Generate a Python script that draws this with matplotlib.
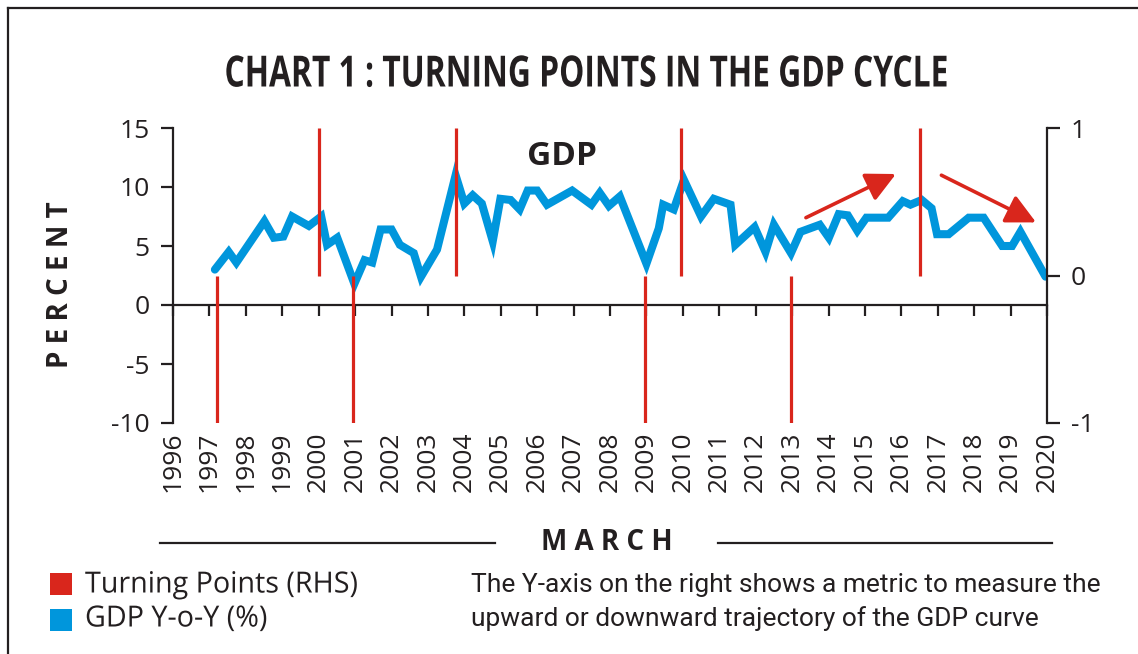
import matplotlib
matplotlib.use('Agg')
import matplotlib.pyplot as plt
from matplotlib.lines import Line2D
from matplotlib.patches import Rectangle
from matplotlib.patheffects import AbstractPathEffect
from matplotlib.transforms import Affine2D

plt.rcParams['axes.unicode_minus'] = False

# GDP Y-o-Y (%) (decimal year, percent)
gdp_years = [1997.15, 1997.53, 1997.74, 1998.51, 1998.77, 1999.03, 1999.27, 1999.73,
             2000.07, 2000.23, 2000.51, 2000.98, 2001.26, 2001.47, 2001.70, 2002.00,
             2002.23, 2002.61, 2002.81, 2003.25, 2003.76, 2004.00, 2004.23, 2004.48,
             2004.78, 2004.99, 2005.27, 2005.52, 2005.74, 2006.00, 2006.27, 2006.96,
             2007.49, 2007.72, 2007.97, 2008.27, 2009.00, 2009.34, 2009.46, 2009.75,
             2010.03, 2010.50, 2010.85, 2011.31, 2011.44, 2011.97, 2012.27, 2012.50,
             2012.97, 2013.23, 2013.76, 2014.01, 2014.28, 2014.53, 2014.79, 2015.04,
             2015.64, 2016.04, 2016.25, 2016.56, 2016.83, 2016.98, 2017.30, 2017.85,
             2018.26, 2018.77, 2019.04, 2019.27, 2019.96]
gdp_vals = [3.0, 4.5, 3.6, 7.1, 5.7, 5.8, 7.5, 6.7,
            7.5, 5.1, 5.7, 1.8, 3.8, 3.6, 6.4, 6.4,
            5.1, 4.4, 2.4, 4.7, 11.0, 8.6, 9.3, 8.6,
            5.4, 9.0, 8.9, 8.1, 9.7, 9.7, 8.5, 9.7,
            8.5, 9.5, 8.4, 9.2, 3.5, 6.5, 8.5, 8.1,
            10.6, 7.5, 9.0, 8.5, 5.1, 6.6, 4.5, 6.8,
            4.4, 6.2, 6.8, 5.7, 7.7, 7.6, 6.3, 7.4,
            7.4, 8.8, 8.5, 8.9, 8.2, 6.0, 6.0, 7.4,
            7.4, 5.0, 5.0, 6.2, 2.4]

# turning points on the right-hand scale
turn_years = [1997.22, 2000.0, 2000.95, 2003.76, 2008.95, 2009.96, 2012.96, 2016.5]
turn_vals = [-1, 1, -1, 1, -1, 1, -1, 1]

years = list(range(1996, 2021))

RED = '#d9261c'
BLUE = '#0096dc'
INK = '#231f20'
W, H = 1138, 654


class Squeeze(AbstractPathEffect):
    """Narrow the glyphs horizontally around x = cx (display pixels)."""
    def __init__(self, sx, cx):
        super().__init__()
        self.sx, self.cx = sx, cx

    def draw_path(self, renderer, gc, tpath, affine, rgbFace=None):
        t = affine + Affine2D().translate(-self.cx, 0).scale(self.sx, 1).translate(self.cx, 0)
        renderer.draw_path(gc, tpath, t, rgbFace)


fig = plt.figure(figsize=(W / 100, H / 100), dpi=100)

def fx(px):
    return px / W

def fy(py):
    return 1 - py / H

# frame
fig.add_artist(Line2D([fx(8), 1], [fy(8), fy(8)], color=INK, lw=1.6))
fig.add_artist(Line2D([fx(8), fx(8)], [0, fy(8)], color=INK, lw=1.6))

title = fig.text(fx(586), fy(75), 'CHART 1 : TURNING POINTS IN THE GDP CYCLE',
                 ha='center', va='center', fontsize=31, fontweight='bold',
                 family='Open Sans', color=INK)

# legend
fig.add_artist(Rectangle((fx(50), fy(595)), 22 / W, 22 / H, color=RED, lw=0))
fig.add_artist(Rectangle((fx(50), fy(631)), 22 / W, 22 / H, color=BLUE, lw=0))
leg_kw = dict(ha='left', va='center', fontsize=21, family='Open Sans', color=INK)
leg1 = fig.text(fx(85), fy(585), 'Turning Points (RHS)', **leg_kw)
leg2 = fig.text(fx(85), fy(619), 'GDP Y-o-Y (%)', **leg_kw)
note_kw = dict(ha='left', va='center', fontsize=19, family='Roboto', color=INK)
fig.text(fx(471), fy(585), 'The Y-axis on the right shows a metric to measure the', **note_kw)
fig.text(fx(471), fy(619), 'upward or downward trajectory of the GDP curve', **note_kw)

# narrow the condensed-looking texts to the widths seen in the original
fig.canvas.draw()
title.set_path_effects([Squeeze(723 / title.get_window_extent().width, 586)])
s_leg = 273 / leg1.get_window_extent().width
leg1.set_path_effects([Squeeze(s_leg, 85)])
leg2.set_path_effects([Squeeze(s_leg, 85)])

ax = fig.add_axes([fx(173), fy(423), fx(1047 - 173), (423 - 128) / H])
ax.set_xlim(1996, 2020)
ax.set_ylim(-10, 15)
ax.plot(gdp_years, gdp_vals, color=BLUE, lw=5.8, solid_joinstyle='miter',
        solid_capstyle='round', zorder=3)

for s in ['top', 'right']:
    ax.spines[s].set_visible(False)
ax.spines['left'].set_linewidth(1.6)
ax.spines['left'].set_color(INK)
ax.spines['bottom'].set_position(('data', 0))
ax.spines['bottom'].set_linewidth(1.6)
ax.spines['bottom'].set_color(INK)
ax.set_yticks([-10, -5, 0, 5, 10, 15])
ax.set_xticks(years)
ax.set_xticklabels([])
ax.tick_params(axis='y', direction='out', length=9, width=1.6, color=INK,
               pad=8, labelsize=19, labelcolor=INK)
ax.tick_params(axis='x', direction='out', length=8, width=1.6, color=INK)
for t in ax.get_yticklabels():
    t.set_family('Open Sans')

for yr in years:
    ax.annotate(str(yr), xy=(yr, 0), xycoords=('data', 'axes fraction'),
                xytext=(0, -6), textcoords='offset points', rotation=90,
                ha='center', va='top', fontsize=19, family='Open Sans', color=INK)

ax.text(2006.69, 12.6, 'GDP', ha='center', va='center', fontsize=24,
        fontweight='bold', family='Open Sans', color=INK)

arrow_kw = dict(arrowstyle='-|>,head_length=0.9,head_width=0.45', color=RED,
                lw=2.6, mutation_scale=20, shrinkA=0, shrinkB=0)
ax.annotate('', xy=(2015.85, 11.1), xytext=(2013.38, 7.4), arrowprops=arrow_kw)
ax.annotate('', xy=(2019.7, 7.0), xytext=(2017.1, 11.0), arrowprops=arrow_kw)

ax2 = ax.twinx()
ax2.set_ylim(-1, 1)
ax2.vlines(turn_years, 0, turn_vals, color=RED, lw=2.3, zorder=4)
for s in ['top', 'left', 'bottom']:
    ax2.spines[s].set_visible(False)
ax2.spines['right'].set_linewidth(1.6)
ax2.spines['right'].set_color(INK)
ax2.set_yticks([-1, 0, 1])
ax2.tick_params(axis='y', direction='out', length=9, width=1.6, color=INK,
                pad=8, labelsize=19, labelcolor=INK)
for t in ax2.get_yticklabels():
    t.set_family('Open Sans')

fig.text(fx(60), fy(285), 'P E R C E N T', rotation=90, ha='center', va='center',
         fontsize=20, fontweight='bold', family='Open Sans', color=INK)

fig.text(fx(607), fy(543), 'M A R C H', ha='center', va='center',
         fontsize=20, fontweight='bold', family='Open Sans', color=INK)
fig.add_artist(Line2D([fx(160), fx(495)], [fy(543), fy(543)], color=INK, lw=1.6))
fig.add_artist(Line2D([fx(718), fx(1052)], [fy(543), fy(543)], color=INK, lw=1.6))

fig.savefig('out.png', dpi=100)
plt.close()
